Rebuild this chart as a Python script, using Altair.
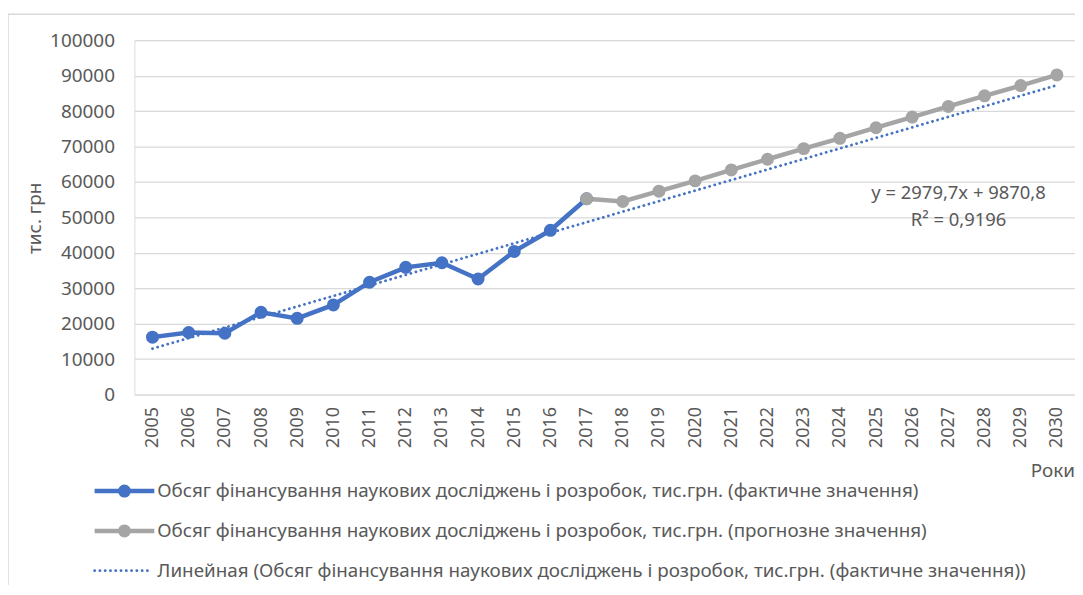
import altair as alt
import pandas as pd

# ---- data ----
years_actual = [2005, 2006, 2007, 2008, 2009, 2010, 2011, 2012, 2013, 2014, 2015, 2016, 2017]
values_actual = [16200, 17500, 17300, 23200, 21500, 25300, 31700, 35900, 37200, 32600, 40400, 46350, 55250]

years_forecast = [2017, 2018, 2019, 2020, 2021, 2022, 2023, 2024, 2025, 2026, 2027, 2028, 2029, 2030]
values_forecast = [55250, 54500, 57400, 60300, 63400, 66400, 69400, 72300, 75300, 78300, 81300, 84300, 87200, 90200]

year_ticks = list(range(2005, 2031))
y_ticks = [0, 10000, 20000, 30000, 40000, 50000, 60000, 70000, 80000, 90000, 100000]

legend_labels = [
    "Обсяг фінансування наукових досліджень і розробок, тис.грн. (фактичне значення)",
    "Обсяг фінансування наукових досліджень і розробок, тис.грн. (прогнозне значення)",
    "Линейная (Обсяг фінансування наукових досліджень і розробок, тис.грн. (фактичне значення))",
]
equation_lines = ["y = 2979,7x + 9870,8", "R² = 0,9196"]
y_title = "тис. грн"
x_title = "Роки"

BLUE = "#4472C4"
GRAY = "#A5A5A5"
TEXT = "#595959"
GRID = "#D9D9D9"
FONT = "Noto Sans"

W, H = 945, 356

df_a = pd.DataFrame({"year": years_actual, "value": values_actual})
df_f = pd.DataFrame({"year": years_forecast, "value": values_forecast})

xscale = alt.Scale(domain=[2004.5, 2030.5], nice=False, zero=False)
yscale = alt.Scale(domain=[0, 100000], nice=False)

xaxis = alt.Axis(values=year_ticks, format="d", labelAngle=-90, labelFontSize=18,
                 labelColor=TEXT, labelFont=FONT, labelPadding=12, domain=False,
                 ticks=False, grid=False, title=None, labelOverlap=False)
yaxis = alt.Axis(values=y_ticks, format="d", labelFontSize=19, labelColor=TEXT,
                 labelFont=FONT, labelPadding=20, domain=False, ticks=False,
                 grid=True, gridColor=GRID, gridWidth=1.3, title=None, labelOverlap=False)

X = alt.X("year:Q", scale=xscale, axis=xaxis)
Y = alt.Y("value:Q", scale=yscale, axis=yaxis)

base_a = alt.Chart(df_a).encode(x=X, y=Y)
base_f = alt.Chart(df_f).encode(x=X, y=Y)

trend = alt.Chart(df_a).transform_regression(
    "year", "value", method="linear", extent=[2005, 2030]
).mark_line(color=BLUE, strokeWidth=2.8, strokeDash=[0.1, 5.2], strokeCap="round").encode(x=X, y=Y)

line_a = base_a.mark_line(color=BLUE, strokeWidth=4.5)
line_f = base_f.mark_line(color=GRAY, strokeWidth=4.5)
pts_a = base_a.mark_circle(color=BLUE, size=170, opacity=1)
pts_f = base_f.mark_circle(color=GRAY, size=170, opacity=1)

# chart border (only left/top visible in the reference)
border = alt.Chart(pd.DataFrame({"k": [0]})).mark_rect(
    fill=None, stroke=GRID, strokeWidth=1.5
).encode(x=alt.value(-127), x2=alt.value(1000), y=alt.value(-26), y2=alt.value(600))

def text_layer(txt, x, y, size, align="left", angle=0):
    return alt.Chart(pd.DataFrame({"t": [txt]})).mark_text(
        align=align, baseline="middle", fontSize=size, font=FONT, color=TEXT, angle=angle
    ).encode(text="t:N", x=alt.value(x), y=alt.value(y))

layers = [trend, line_a, line_f, pts_a, pts_f, border]

# y title, x title, equation
layers.append(text_layer(y_title, -100, 179, 19, align="center", angle=270))
layers.append(text_layer(x_title, 945, 433, 19, align="right"))
layers.append(text_layer(equation_lines[0], 828, 154, 18.5, align="center"))
layers.append(text_layer(equation_lines[1], 828, 181, 18.5, align="center"))

# custom legend
legend_rows = [453, 493, 533]
legend_colors = [BLUE, GRAY, BLUE]
one = pd.DataFrame({"k": [0]})
for i, (lbl, ry, col) in enumerate(zip(legend_labels, legend_rows, legend_colors)):
    if i < 2:
        layers.append(alt.Chart(one).mark_rule(color=col, strokeWidth=4.5).encode(
            x=alt.value(-40), x2=alt.value(20), y=alt.value(ry)))
        layers.append(alt.Chart(one).mark_circle(color=col, size=170, opacity=1).encode(
            x=alt.value(-10), y=alt.value(ry)))
    else:
        layers.append(alt.Chart(one).mark_rule(color=col, strokeWidth=2.8, strokeDash=[0.1, 5.2],
                                               strokeCap="round").encode(
            x=alt.value(-40), x2=alt.value(18), y=alt.value(ry)))
    layers.append(text_layer(lbl, 23, ry, 18.9))

chart = alt.layer(*layers).properties(
    width=W, height=H,
    autosize=alt.AutoSizeParams(type="none"),
    padding={"left": 127, "top": 31, "right": 0, "bottom": 190},
).configure_view(stroke=None).configure(font=FONT)

chart.save("out.html", embed_options={"renderer": "svg", "actions": False})
